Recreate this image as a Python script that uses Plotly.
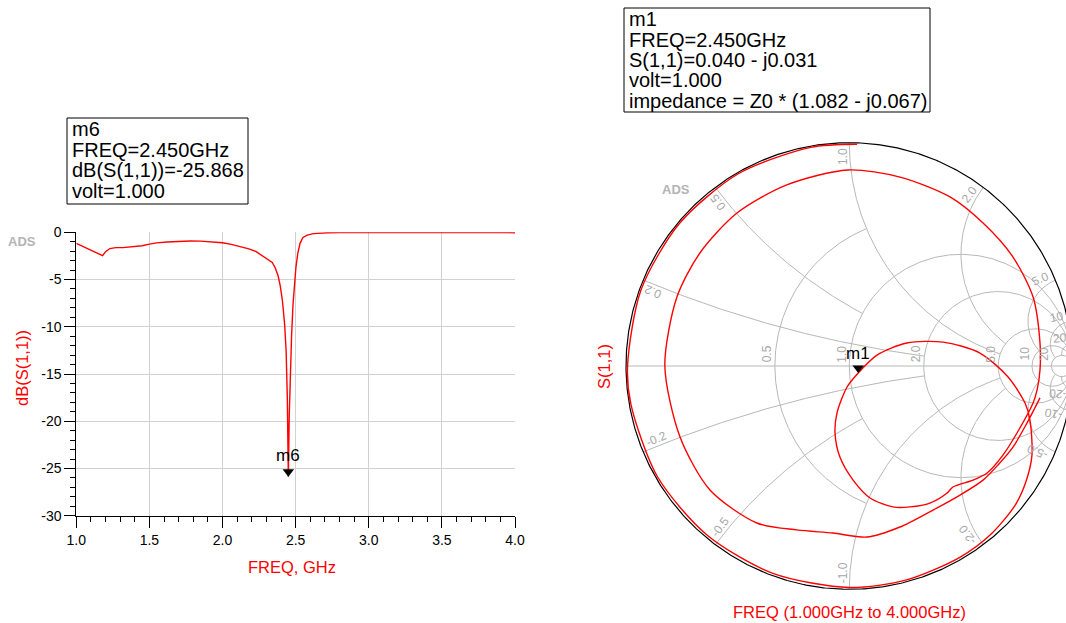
import numpy as np
import plotly.graph_objects as go

W, H = 1066, 623

# ---- return loss sweep, dB(S(1,1)) against frequency ----
freq_ghz = [1.00, 1.05, 1.10, 1.15, 1.18, 1.20, 1.23, 1.27, 1.32, 1.38,
            1.45, 1.50, 1.55, 1.62, 1.70, 1.78, 1.85, 1.92, 2.00, 2.06,
            2.12, 2.18, 2.23, 2.27, 2.30, 2.32, 2.34, 2.36, 2.38, 2.395,
            2.41, 2.425, 2.435, 2.443, 2.45, 2.456, 2.463, 2.472, 2.482, 2.492,
            2.502, 2.515, 2.53, 2.55, 2.58, 2.62, 2.67, 2.72, 2.80, 2.90,
            3.00, 3.20, 3.40, 3.60, 3.80, 4.00]
s11_db = [-1.17, -1.55, -1.95, -2.25, -2.47, -2.05, -1.72, -1.62, -1.62, -1.56,
          -1.42, -1.25, -1.12, -1.02, -0.95, -0.92, -0.93, -0.98, -1.10, -1.28,
          -1.50, -1.75, -2.05, -2.45, -2.80, -2.93, -3.20, -3.75, -4.60, -5.70,
          -7.30, -9.80, -12.6, -17.5, -25.868, -19.5, -15.2, -11.0, -7.6, -5.3,
          -3.70, -2.20, -1.17, -0.55, -0.29, -0.14, -0.07, -0.04, -0.02, -0.02,
          -0.02, -0.04, -0.08, -0.08, -0.05, -0.04]

# ---- same sweep as reflection coefficient (real, imaginary) ----
s11_re = [0.854, 0.796, 0.733, 0.666, 0.599, 0.496, 0.375, 0.227, 0.079, -0.074,
          -0.235, -0.414, -0.624, -0.758, -0.826, -0.772, -0.669, -0.503, -0.280, -0.006,
          0.227, 0.451, 0.599, 0.733, 0.823, 0.854, 0.854, 0.841, 0.823, 0.751,
          0.688, 0.617, 0.554, 0.464, 0.438, 0.361, 0.272, 0.195, 0.093, 0.017,
          -0.042, -0.064, -0.055, -0.010, 0.040, 0.124, 0.258, 0.420, 0.585, 0.711,
          0.787, 0.809, 0.818, 0.792, 0.743, 0.633, 0.495, 0.257, 0.000, -0.339,
          -0.636, -0.859, -0.978, -0.993, -0.933, -0.761, -0.497, -0.173, 0.035]
s11_im = [-0.143, -0.255, -0.363, -0.443, -0.511, -0.578, -0.645, -0.721, -0.766, -0.748,
          -0.734, -0.703, -0.555, -0.318, 0.000, 0.309, 0.506, 0.685, 0.811, 0.878,
          0.846, 0.757, 0.640, 0.488, 0.309, 0.103, -0.018, -0.107, -0.166, -0.300,
          -0.399, -0.479, -0.511, -0.542, -0.569, -0.614, -0.631, -0.631, -0.591, -0.511,
          -0.408, -0.300, -0.210, -0.094, -0.031, 0.049, 0.103, 0.107, 0.058, -0.049,
          -0.166, -0.242, -0.399, -0.515, -0.623, -0.755, -0.857, -0.958, -0.992, -0.930,
          -0.758, -0.496, -0.172, 0.000, 0.340, 0.638, 0.861, 0.979, 0.993]

# markers
m6_freq, m6_db = 2.45, -25.868
m1_re, m1_im = 0.040, -0.031

x_tick_vals = [1.0, 1.5, 2.0, 2.5, 3.0, 3.5, 4.0]
y_tick_vals = [0, -5, -10, -15, -20, -25, -30]

# marker readouts
m6_lines = ["m6", "FREQ=2.450GHz", "dB(S(1,1))=-25.868", "volt=1.000"]
m1_lines = ["m1", "FREQ=2.450GHz", "S(1,1)=0.040 - j0.031", "volt=1.000",
            "impedance = Z0 * (1.082 - j0.067)"]

# Smith chart grid: resistance circles and reactance arcs
r_circles = [0.5, 1.0, 2.0, 5.0, 10.0, 20.0]
r_labels = ["0.5", "1.0", "2.0", "5.0", "10", "20"]
r_reach = {0.5: 1.0}          # partial circles: drawn for |x| <= value
x_arcs = [0.2, 0.5, 1.0, 2.0, 5.0, 10.0, 20.0]
x_labels = ["0.2", "0.5", "1.0", "2.0", "5.0", "10", "20"]
x_reach = {0.2: 2.0, 0.5: 1.0, 1.0: 5.0, 2.0: 5.0, 5.0: 10.0, 10.0: 20.0, 20.0: 20.0}

RED = "#ff0000"
GRID = "#b8b8b8"
LBL = "#a8a8a8"
FONT = "Liberation Sans, Arial, sans-serif"

# smith chart placement (pixels): centre and radius
CX, CY, RAD = 849.3, 366.0, 223.3
PX = 1.0 / RAD


def gamma(z):
    return (z - 1) / (z + 1)


def paper(px, py):
    return px / W, 1 - py / H


fig = go.Figure()

# ---------------- rectangular plot ----------------
fig.add_trace(go.Scatter(x=freq_ghz, y=s11_db, mode="lines",
                         line=dict(color=RED, width=1.4),
                         xaxis="x", yaxis="y", hoverinfo="skip"))
fig.add_trace(go.Scatter(x=[m6_freq], y=[m6_db], mode="markers",
                         marker=dict(symbol="triangle-up", size=10, color="black",
                                     angle=180, standoff=5),
                         xaxis="x", yaxis="y", hoverinfo="skip"))

# ---------------- smith chart ----------------
gx, gy = [], []
for r in r_circles:
    if r in r_reach:
        xx = np.linspace(-r_reach[r], r_reach[r], 300)
        g = gamma(r + 1j * xx)
    else:
        phi = np.linspace(0, 2 * np.pi, 400)
        g = r / (1 + r) + np.exp(1j * phi) / (1 + r)
    gx += list(g.real) + [None]
    gy += list(g.imag) + [None]
for xv in x_arcs:
    for sgn in (1, -1):
        s = np.linspace(0, np.arctan(x_reach[xv]), 250)
        g = gamma(np.tan(s) + 1j * sgn * xv)
        gx += list(g.real) + [None]
        gy += list(g.imag) + [None]
gx += [-1, 1, None]
gy += [0, 0, None]
fig.add_trace(go.Scatter(x=gx, y=gy, mode="lines", line=dict(color=GRID, width=1),
                         xaxis="x2", yaxis="y2", hoverinfo="skip"))

phi = np.linspace(0, 2 * np.pi, 720)
fig.add_trace(go.Scatter(x=np.cos(phi), y=np.sin(phi), mode="lines",
                         line=dict(color="black", width=1.2),
                         xaxis="x2", yaxis="y2", hoverinfo="skip"))

fig.add_trace(go.Scatter(x=s11_re, y=s11_im, mode="lines",
                         line=dict(color=RED, width=1.4, shape="spline", smoothing=0.8),
                         xaxis="x2", yaxis="y2", hoverinfo="skip"))
fig.add_trace(go.Scatter(x=[m1_re], y=[m1_im], mode="markers",
                         marker=dict(symbol="triangle-up", size=10, color="black",
                                     angle=180, standoff=5),
                         xaxis="x2", yaxis="y2", hoverinfo="skip"))

ann = []


def label(**kw):
    kw.setdefault("xanchor", "center")
    kw.setdefault("yanchor", "middle")
    kw.setdefault("showarrow", False)
    ann.append(kw)


# resistance labels along the real axis
for r, t in zip(r_circles, r_labels):
    label(x=(r - 1) / (r + 1) - 7.5 * PX, y=12 * PX, xref="x2", yref="y2",
          text=t, textangle=-90, font=dict(family=FONT, size=12, color=LBL))
# reactance labels around the rim
for xv, t in zip(x_arcs, x_labels):
    for sgn in (1, -1):
        p = gamma(1j * sgn * xv)
        ux, uy = p.real, p.imag
        dx, dy = (ux, uy) if uy >= 0 else (-ux, -uy)
        nx, ny = -dy, dx
        txt = t if sgn > 0 else "-" + t
        along = (4.0 + 3.2 * len(txt)) * PX
        label(x=ux - ux * along + nx * 6.5 * PX, y=uy - uy * along + ny * 6.5 * PX,
              xref="x2", yref="y2", text=txt,
              textangle=-np.degrees(np.arctan2(dy, dx)),
              font=dict(family=FONT, size=12, color=LBL))

# marker names
label(x=m6_freq, y=m6_db, xref="x", yref="y", text="m6", yshift=21,
      font=dict(family=FONT, size=17, color="black"))
label(x=m1_re, y=m1_im, xref="x2", yref="y2", text="m1", yshift=19,
      font=dict(family=FONT, size=17, color="black"))

# marker readout boxes, one annotation per text line
for lines, (left, top, pitch) in [(m6_lines, (70, 129, 20.7)), (m1_lines, (627, 19, 20.5))]:
    for i, txt in enumerate(lines):
        ax_, ay_ = paper(left, top + i * pitch)
        label(x=ax_, y=ay_, xref="paper", yref="paper", xanchor="left", text=txt,
              font=dict(family=FONT, size=20, color="black"))

# axis titles
for (px, py, txt, ang) in [(22, 368, "dB(S(1,1))", -90), (292, 567, "FREQ, GHz", 0),
                           (604, 367, "S(1,1)", -90),
                           (849, 612, "FREQ (1.000GHz to 4.000GHz)", 0)]:
    ax_, ay_ = paper(px, py)
    label(x=ax_, y=ay_, xref="paper", yref="paper", text=txt, textangle=ang,
          font=dict(family=FONT, size=16.5, color=RED))

# ADS watermark
for (px, py) in [(22, 241), (676, 189)]:
    ax_, ay_ = paper(px, py)
    label(x=ax_, y=ay_, xref="paper", yref="paper", text="<b>ADS</b>",
          font=dict(family=FONT, size=13, color="#b4b4b4"))

shapes = []
for (x0, y0, x1, y1) in [(67, 118, 248, 204), (624, 8, 930, 112)]:
    a0, b0 = paper(x0, y0)
    a1, b1 = paper(x1, y1)
    shapes.append(dict(type="rect", xref="paper", yref="paper", x0=a0, y0=b1, x1=a1, y1=b0,
                       line=dict(color="black", width=1)))

xl0, xl1 = 76.3 / W, 515.0 / W
yl0, yl1 = (H - 515.7) / H, (H - 232.3) / H
sx0, sx1 = 600 / W, 1.0
sy0, sy1 = (H - 600) / H, (H - 130) / H

axis_common = dict(ticks="outside", ticklen=11, tickwidth=1, tickcolor="black",
                   tickfont=dict(family=FONT, size=14, color="black"),
                   showgrid=True, gridcolor="#d2d2d2", gridwidth=1,
                   showline=True, linecolor="black", linewidth=1, zeroline=False,
                   automargin=False, tickmode="array")

fig.update_layout(
    width=W, height=H, margin=dict(l=0, r=0, t=0, b=0, autoexpand=False),
    paper_bgcolor="white", plot_bgcolor="white", showlegend=False,
    font=dict(family=FONT),
    annotations=ann, shapes=shapes,
    xaxis=dict(domain=[xl0, xl1], range=[1, 4], anchor="y",
               tickvals=x_tick_vals, ticktext=[f"{v:.1f}" for v in x_tick_vals],
               minor=dict(tickmode="linear", tick0=1, dtick=0.1, ticks="outside",
                          ticklen=5, tickcolor="black", showgrid=False),
               **axis_common),
    yaxis=dict(domain=[yl0, yl1], range=[-30, 0], anchor="x",
               tickvals=y_tick_vals, ticktext=[str(v) for v in y_tick_vals],
               minor=dict(tickmode="linear", tick0=0, dtick=1, ticks="outside",
                          ticklen=5, tickcolor="black", showgrid=False),
               **axis_common),
    xaxis2=dict(domain=[sx0, sx1], anchor="y2", automargin=False,
                range=[(600 - CX) / RAD, (W - CX) / RAD], visible=False),
    yaxis2=dict(domain=[sy0, sy1], anchor="x2", automargin=False,
                range=[(CY - 600) / RAD, (CY - 130) / RAD], visible=False),
)

fig.write_html("out.html")
